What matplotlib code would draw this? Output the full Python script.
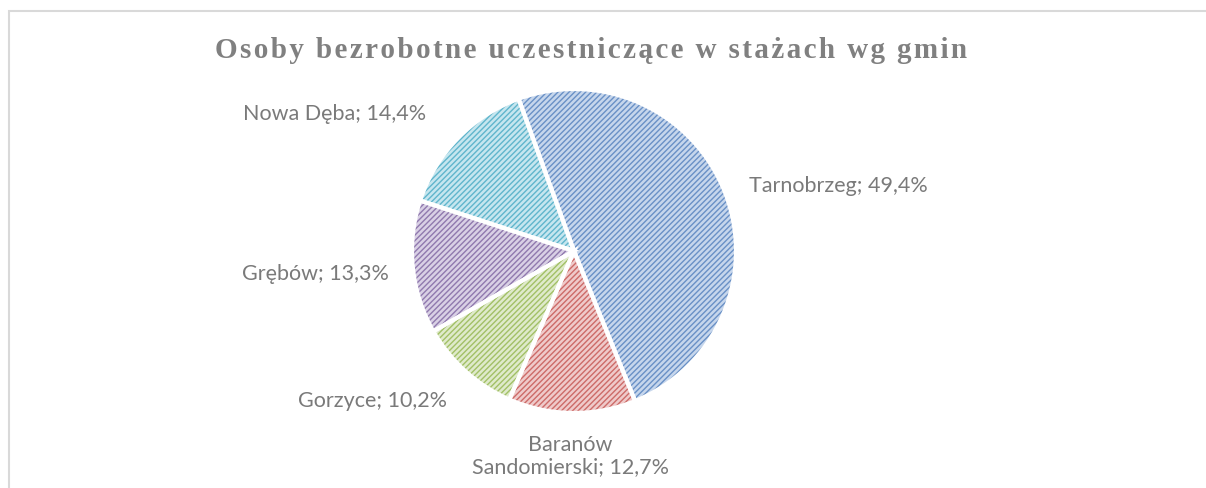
import matplotlib
matplotlib.use("Agg")
import matplotlib.pyplot as plt
from matplotlib.patches import Rectangle

title = "Osoby bezrobotne uczestniczące w stażach wg gmin"
gminy = ["Tarnobrzeg", "Baranów\nSandomierski", "Gorzyce", "Grębów", "Nowa Dęba"]
udzial = [49.4, 12.7, 10.2, 13.3, 14.4]

face_colors = ["#C6D6EC", "#EFCACA", "#DFEACB", "#D9D0E5", "#C6E6EF"]
hatch_colors = ["#6990C6", "#CD6B68", "#A2C066", "#9079AE", "#60B5CC"]

# label anchor points in pixels (from top-left)
label_pos = [(838, 186), (570, 456), (372, 401), (315, 274), (335, 114)]


def main():
    W, H = 1206, 488
    fig = plt.figure(figsize=(W / 100, H / 100), dpi=100)
    ax = fig.add_axes([0, 0, 1, 1])

    cx, cy, r = 574, H - 251, 162

    wedges, _ = ax.pie(udzial, colors=face_colors, startangle=110,
                       counterclock=False, center=(cx, cy), radius=r,
                       wedgeprops=dict(linewidth=0))
    plt.rcParams['hatch.linewidth'] = 0.9
    for w, hc in zip(wedges, hatch_colors):
        w.set_hatch('//////')
        w.set_edgecolor(hc)
        w.set_linewidth(0)

    # white separators on top
    ax.pie(udzial, startangle=110, counterclock=False,
           center=(cx, cy), radius=r,
           wedgeprops=dict(fill=False, edgecolor='white', linewidth=3))

    ax.set_xlim(0, W)
    ax.set_ylim(0, H)
    ax.set_aspect('equal')
    ax.axis('off')

    for name, val, (x, y) in zip(gminy, udzial, label_pos):
        txt = f"{name}; {val:.1f}%".replace('.', ',')
        ax.text(x, H - y, txt, ha='center', va='center', fontsize=15.5,
                color='#7A7A7A', family='Lato', linespacing=1.15)

    spaced = '\u200a'.join(title)
    ax.text(591, H - 50, spaced, ha='center', va='center', fontsize=21,
            fontweight='bold', family=['Liberation Serif', 'DejaVu Serif'],
            color='#808080')

    ax.add_patch(Rectangle((8.5, -20), 1300, H - 10.5 + 20, fill=False,
                           edgecolor='#D9D9D9', linewidth=1.5, clip_on=False))

    fig.savefig('out.png', dpi=100, facecolor='white')


if __name__ == '__main__':
    main()
